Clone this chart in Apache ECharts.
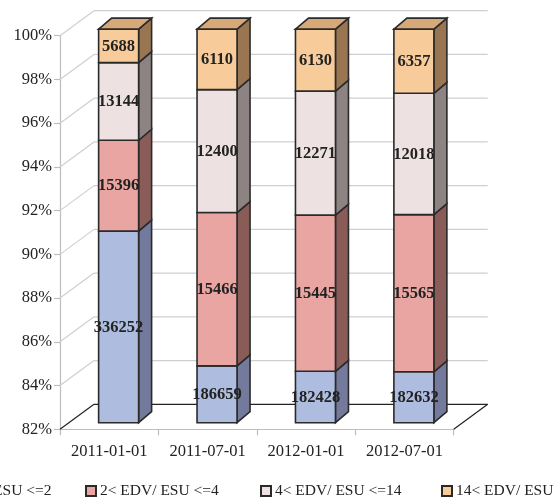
<!DOCTYPE html>
<html><head><meta charset="utf-8">
<style>html,body{margin:0;padding:0;background:#fff;overflow:hidden}#c{width:554px;height:498px}</style>
<script src="https://cdn.jsdelivr.net/npm/echarts@6/dist/echarts.min.js"></script>
</head><body><div id="c"></div>
<script>
const categories = ['2011-01-01','2011-07-01','2012-01-01','2012-07-01'];
const seriesNames = ['EDV/ ESU <=2','2< EDV/ ESU <=4','4< EDV/ ESU <=14','14< EDV/ ESU'];
const band1 = [336252,186659,182428,182632];
const band2 = [15396,15466,15445,15565];
const band3 = [13144,12400,12271,12018];
const band4 = [5688,6110,6130,6357];
const yTicks = [82,84,86,88,90,92,94,96,98,100];
const bands = [band1,band2,band3,band4];

const frontColors = ['#AEBDDF','#E8A5A2','#EEE1E1','#F7CC9A'];
const sideColors = ['#737A9B','#8A5C58','#8C8382','#9A7552'];
const topColor = '#D7A878';
const edge = '#2a2a2a';
const FONT = '"Liberation Serif","Times New Roman",serif';
const BAR_W = 40, BAR_DX = 13, BAR_DY = 11, LIFT = 6.6, SHIFT = 9.4;
const WALL_DX = 34, WALL_DY = 25;
const YMIN = 82, YMAX = 100;

const totals = categories.map((_, i) => bands.reduce((s, b) => s + b[i], 0));
function pct(layer, i, upto) {
  let s = 0;
  for (let k = 0; k < upto; k++) s += bands[k][i];
  return 100 * s / totals[i];
}
function poly(points, fill, lw) {
  return {type:'polygon', shape:{points}, style:{fill, stroke:edge, lineWidth:lw||1.6, lineJoin:'miter'}};
}
function barRender(layer) {
  return function (params, api) {
    const i = api.value(0);
    const c = api.coord([i, YMIN]);
    const cx = c[0] + SHIFT;
    const yb = Math.max(YMIN, pct(layer, i, layer));
    const y0 = api.coord([i, yb])[1] - LIFT;
    const y1 = api.coord([i, pct(layer, i, layer + 1)])[1] - LIFT;
    const x0 = cx - BAR_W / 2, x1 = cx + BAR_W / 2;
    const children = [
      poly([[x1,y0],[x1+BAR_DX,y0-BAR_DY],[x1+BAR_DX,y1-BAR_DY],[x1,y1]], sideColors[layer]),
      poly([[x0,y0],[x1,y0],[x1,y1],[x0,y1]], frontColors[layer])
    ];
    if (layer === bands.length - 1) {
      children.push(poly([[x0,y1],[x1,y1],[x1+BAR_DX,y1-BAR_DY],[x0+BAR_DX,y1-BAR_DY]], topColor));
    }
    children.push({type:'text', z2:50, style:{
      x:cx, y:(y0+y1)/2 + 0.5, text:String(api.value(1)), align:'center', verticalAlign:'middle',
      font:'bold 16.5px ' + FONT, fill:'#222'
    }});
    return {type:'group', children};
  };
}
function wallRender(params, api) {
  const v = api.value(0);
  const p = api.coord([0, v]);
  const left = api.coord([0, YMIN])[0] - (api.size([1,0])[0]) / 2;
  const right = left + api.size([1,0])[0] * categories.length;
  const y = p[1];
  const floor = v === YMIN;
  const color = floor ? '#222' : '#cfcfcf';
  const ln = (a,b,c,d) => ({type:'line', shape:{x1:a,y1:b,x2:c,y2:d}, style:{stroke:color, lineWidth:1.2}});
  const ch = [ln(left,y,left+WALL_DX,y-WALL_DY), ln(left+WALL_DX,y-WALL_DY,right+WALL_DX,y-WALL_DY)];
  if (floor) ch.push(ln(right+WALL_DX,y-WALL_DY,right,y));
  return {type:'group', children:ch};
}
const series = [{
  type:'custom', silent:true, coordinateSystem:'cartesian2d', renderItem:wallRender, clip:false, z:1,
  data:yTicks.map(v => [v]), encode:{x:-1, y:0}
}];
bands.forEach((b, k) => series.push({
  type:'custom', name:seriesNames[k], coordinateSystem:'cartesian2d', renderItem:barRender(k), clip:false, z:3+k,
  itemStyle:{color:frontColors[k], borderColor:edge, borderWidth:1},
  data:b.map((v, i) => [i, v]), encode:{x:0, y:1}
}));
const legendLeft = [-62, 85, 260, 441];
const chart = echarts.init(document.getElementById('c'), null, {renderer:'canvas'});
chart.setOption({
  animation:false, backgroundColor:'#fff',
  grid:{left:60, right:100.3, top:35.7, bottom:68.7, containLabel:false},
  legend:seriesNames.map((n, k) => ({
    data:[n], left:legendLeft[k], top:483, width:400, icon:'rect', itemWidth:10, itemHeight:10, itemGap:0,
    padding:0, selectedMode:false, textStyle:{fontFamily:FONT, fontSize:15.5, color:'#222', padding:[0,0,0,-1]}
  })),
  xAxis:{type:'category', data:categories, boundaryGap:true,
    axisLine:{lineStyle:{color:'#bdbdbd', width:1.2}},
    axisTick:{show:true, alignWithLabel:false, length:6, lineStyle:{color:'#bdbdbd', width:1.2}},
    axisLabel:{fontFamily:FONT, fontSize:16.5, color:'#222', margin:14, interval:0},
    splitLine:{show:false}},
  yAxis:{type:'value', min:YMIN, max:YMAX, interval:2,
    axisLine:{show:true, lineStyle:{color:'#bdbdbd', width:1.2}},
    axisTick:{show:true, length:6, lineStyle:{color:'#bdbdbd', width:1.2}},
    axisLabel:{fontFamily:FONT, fontSize:16.5, color:'#222', margin:8, formatter:'{value}%', padding:[2,0,0,0]},
    splitLine:{show:false}},
  series
});
</script></body></html>
